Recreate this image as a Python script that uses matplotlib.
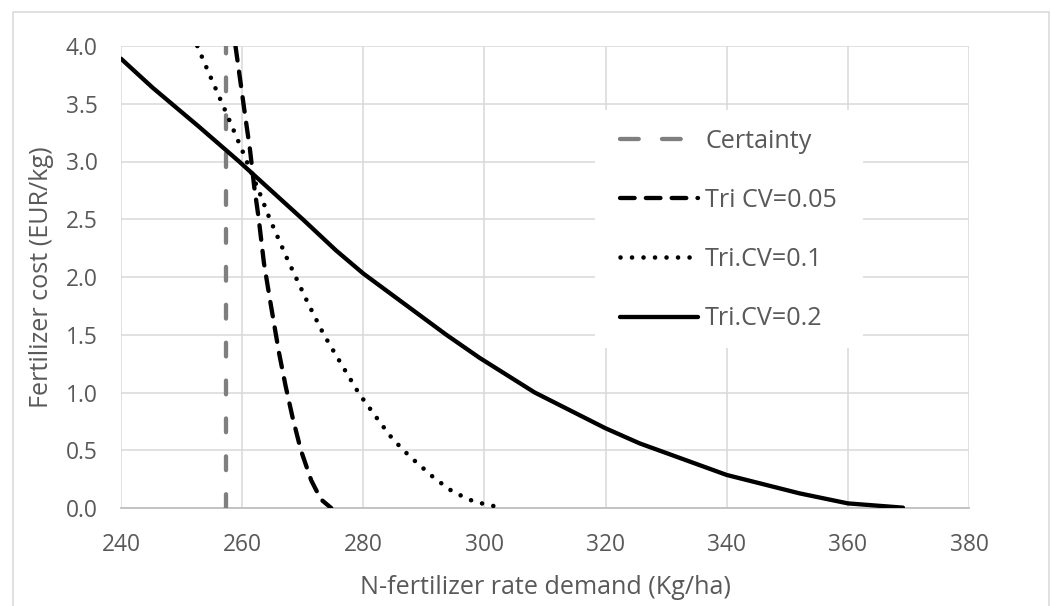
import matplotlib
matplotlib.use("Agg")
from matplotlib import pyplot as plt
from matplotlib.patches import Rectangle
from matplotlib.lines import Line2D

# Data
certainty_x = [257.4, 257.4]
certainty_y = [0.0, 4.0]

tri005_x = [258.9, 260.3, 261.3, 262.0, 262.7, 263.6, 264.7, 266.1, 267.2, 268.3, 269.7, 271.4, 273.0, 274.7]
tri005_y = [4.0, 3.47, 3.10, 2.78, 2.52, 2.12, 1.77, 1.34, 1.05, 0.79, 0.50, 0.24, 0.075, 0.0]

tri01_x = [252.6, 254.3, 257.3, 260.3, 263.1, 264.5, 267.5, 270.9, 273.4, 275.3, 279.3, 282.5, 284.8, 287.6, 291.7, 294.8, 298.3, 302.1]
tri01_y = [4.0, 3.79, 3.43, 3.06, 2.70, 2.51, 2.15, 1.77, 1.51, 1.34, 0.99, 0.76, 0.60, 0.45, 0.26, 0.14, 0.055, 0.01]

tri02_x = [240.0, 245.2, 252.9, 259.5, 270.0, 275.5, 280.0, 293.7, 299.2, 308.3, 320.0, 325.6,
           340.0, 352.0, 360.0, 369.1]
tri02_y = [3.89, 3.64, 3.30, 3.0, 2.5, 2.23, 2.03, 1.5, 1.30, 1.0, 0.69, 0.56,
           0.286, 0.127, 0.04, 0.003]

labels = ['Certainty', 'Tri CV=0.05', 'Tri.CV=0.1', 'Tri.CV=0.2']
xticks = [240, 260, 280, 300, 320, 340, 360, 380]
yticks = [0.0, 0.5, 1.0, 1.5, 2.0, 2.5, 3.0, 3.5, 4.0]

plt.rcParams['font.family'] = ['Open Sans', 'DejaVu Sans']
text_color = '#595959'

fig = plt.figure(figsize=(10.52, 6.06), dpi=100)
W, H = 1052, 606
ax = fig.add_axes([121 / W, (H - 508) / H, (969 - 121) / W, (508 - 46) / H])
renderer = fig.canvas.get_renderer()


def fit_size(txt, target_px, base=16):
    # font size that gives the text the width seen in the reference
    t = fig.text(0, 0, txt, fontsize=base)
    w = t.get_window_extent(renderer).width
    t.remove()
    return base * target_px / w


tick_fs = fit_size("380", 39)
title_fs = fit_size("N-fertilizer rate demand (Kg/ha)", 372)
leg_fs = fit_size("Tri CV=0.05", 132)

lw = 3.1
ax.plot(certainty_x, certainty_y, color='#7f7f7f', lw=lw, dashes=(3.2, 5.6),
        dash_capstyle='round', zorder=3)
ax.plot(tri005_x, tri005_y, color='black', lw=lw, dashes=(3.4, 2.6),
        dash_capstyle='round', zorder=3)
ax.plot(tri01_x, tri01_y, color='black', lw=3.3, dashes=(0.01, 2.5),
        dash_capstyle='round', zorder=3)
ax.plot(tri02_x, tri02_y, color='black', lw=lw, solid_capstyle='round',
        solid_joinstyle='round', zorder=3)

ax.set_xlim(240, 380)
ax.set_ylim(0, 4)
ax.set_xticks(xticks)
ax.set_yticks(yticks)
ax.set_yticklabels([f"{v:.1f}" for v in yticks])
ax.grid(True, color='#d9d9d9', lw=1.1)
ax.set_axisbelow(True)
for s in ['top', 'right', 'left']:
    ax.spines[s].set_visible(False)
ax.spines['bottom'].set_color('#bfbfbf')
ax.spines['bottom'].set_linewidth(1.3)
ax.tick_params(axis='both', length=0, labelsize=tick_fs, colors=text_color)
ax.tick_params(axis='y', pad=17)
ax.tick_params(axis='x', pad=18)

ax.set_xlabel("N-fertilizer rate demand (Kg/ha)", fontsize=title_fs, color=text_color, va='center')
ax.xaxis.set_label_coords(0.5, (508 - 588) / 462)
ax.set_ylabel("Fertilizer cost (EUR/kg)", fontsize=title_fs, color=text_color, va='center')
ax.yaxis.set_label_coords((42 - 121) / 848, 0.5)

# white legend box hiding the gridlines
ax.add_patch(Rectangle(((595 - 121) / 848, (508 - 348) / 462), 268 / 848, 238 / 462,
                       transform=ax.transAxes, facecolor='white', edgecolor='none', zorder=1))
handles = [
    Line2D([], [], color='#7f7f7f', lw=lw, dashes=(4.35, 5.4), dash_capstyle='round'),
    Line2D([], [], color='black', lw=lw, dashes=(3.4, 2.6), dash_capstyle='round'),
    Line2D([], [], color='black', lw=3.3, dashes=(0.01, 2.5), dash_capstyle='round'),
    Line2D([], [], color='black', lw=lw, solid_capstyle='round'),
]
leg = ax.legend(handles, labels, loc='upper left',
                bbox_to_anchor=((620 - 121) / 848, (508 - 129) / 462),
                fontsize=leg_fs, frameon=False, borderpad=0, borderaxespad=0,
                handlelength=78 / (leg_fs * 100 / 72), handletextpad=0.28, labelspacing=1.36)
for t in leg.get_texts():
    t.set_color(text_color)

# chart border like the spreadsheet chart area
fig.add_artist(Rectangle((13 / W, -0.02), (1049 - 13) / W, (H - 12) / H + 0.02,
                         fill=False, ec='#d9d9d9', lw=1.1, transform=fig.transFigure))

fig.savefig("out.png", dpi=100)
